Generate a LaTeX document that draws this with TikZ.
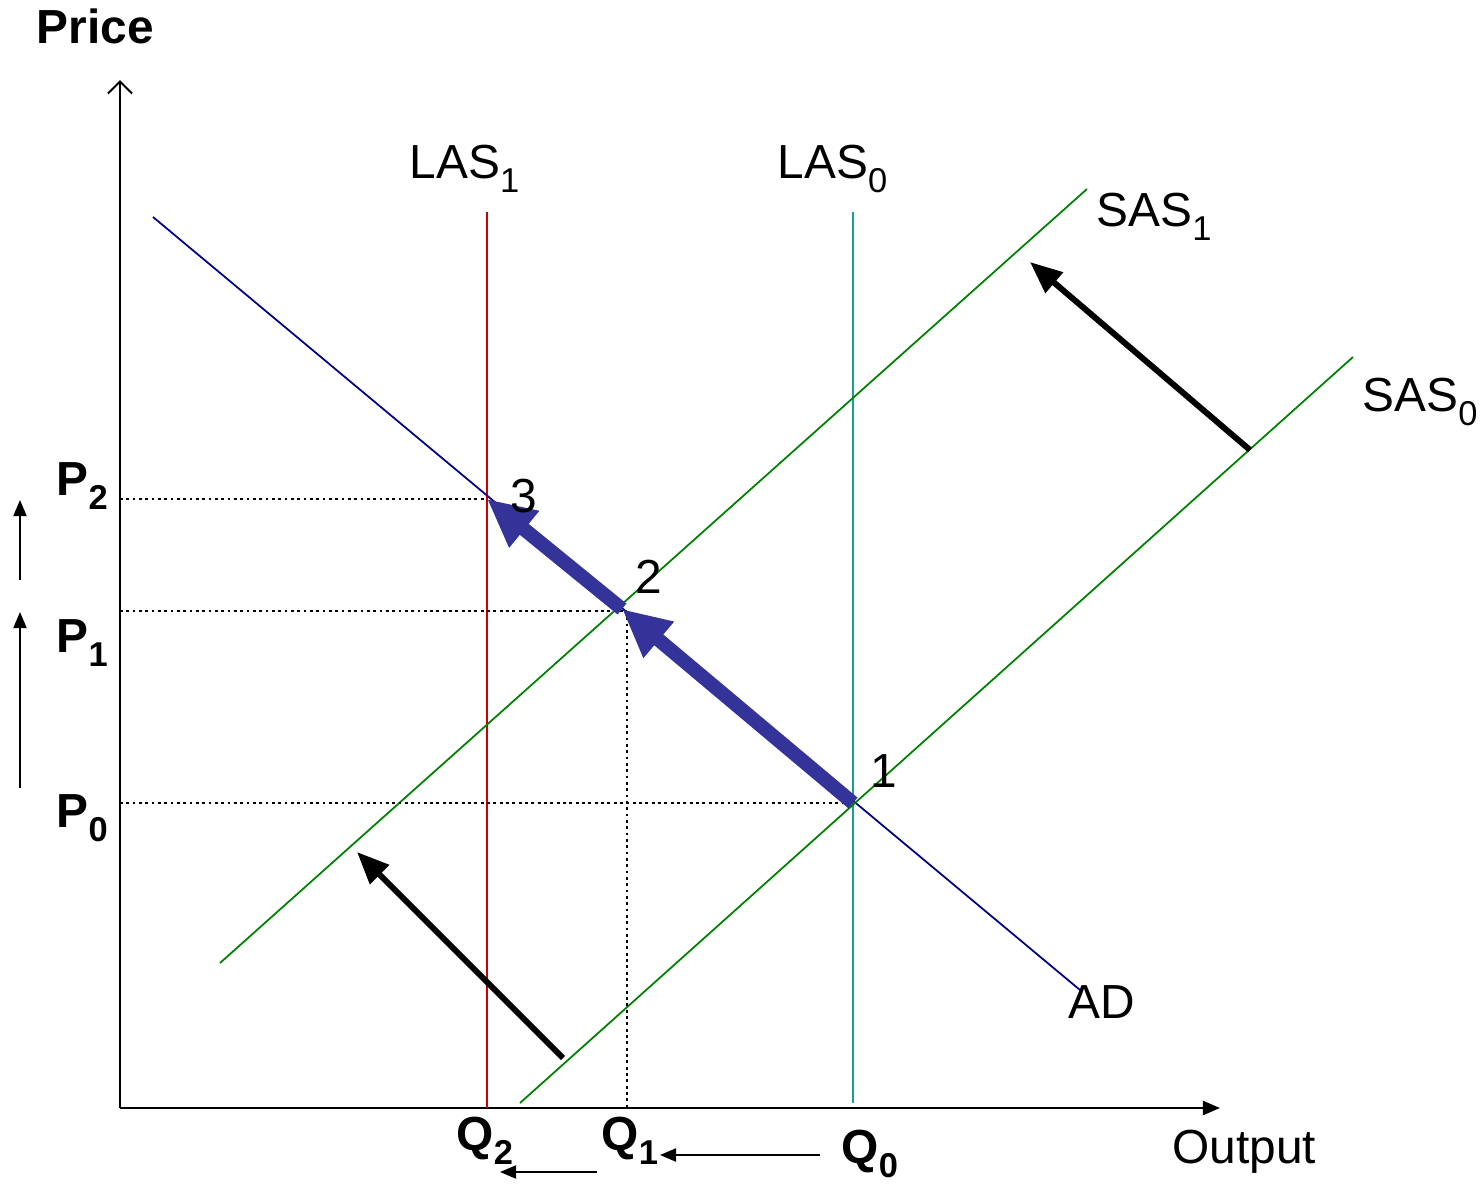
\documentclass[tikz,border=0pt]{standalone}
\usepackage{fontspec}
\setmainfont{Liberation Sans}
\usetikzlibrary{arrows.meta,positioning,calc}

\definecolor{adblue}{RGB}{0,0,128}
\definecolor{sasgreen}{RGB}{0,128,0}
\definecolor{lasred}{RGB}{204,0,0}
\definecolor{lasteal}{RGB}{20,160,150}
\definecolor{moveblue}{RGB}{51,51,153}

% lowered subscript
\newcommand{\lsub}[1]{\raisebox{-4.2pt}{\fontsize{9.8}{11}\selectfont #1}}

\begin{document}
\begin{tikzpicture}[x=0.01cm, y=-0.01cm,
    axisline/.style={black, line width=0.6pt},
    econline/.style={line width=0.5pt},
    guideline/.style={black, line width=0.45pt, dash pattern=on 0.8pt off 1pt},
    pusharrow/.style={black, line width=1.7pt, -{Triangle[length=0.32cm,width=0.26cm]}},
    movearrow/.style={moveblue, line width=4pt, -{Triangle[length=0.48cm,width=0.44cm]}},
    hintarrow/.style={black, line width=0.6pt, -{Triangle[length=0.16cm,width=0.13cm]}},
    lbl/.style={font=\fontsize{13.6}{16}\selectfont, inner sep=0pt, anchor=base west},
    blbl/.style={lbl, font=\fontsize{13.6}{16}\selectfont\bfseries}
]
\useasboundingbox (0,0) rectangle (1481,1184);

% Axes
\coordinate (origin) at (120,1108);
\coordinate (ytop) at (120,80);
\coordinate (xend) at (1220,1108);
\draw[axisline, -{Straight Barb[length=0.12cm,width=0.24cm]}] (origin) -- (ytop);
\draw[axisline, -{Triangle[length=0.17cm,width=0.14cm]}] (origin) -- (xend);
\node[blbl] (price) at (36,43) {Price};
\node[lbl] (output) at (1172,1163) {Output};

% Equilibrium points
\coordinate (e1) at (853,803);
\coordinate (e2) at (622,609);
\coordinate (e3) at (487,499);

% Long-run supply
\coordinate (las1top) at (487,212);
\coordinate (las1bot) at (487,1108);
\coordinate (las0top) at (853,212);
\coordinate (las0bot) at (853,1103);
\draw[econline, lasred] (las1top) -- (las1bot);
\draw[econline, lasteal] (las0top) -- (las0bot);
\node[lbl] (las1) at (409,178) {LAS\lsub{1}};
\node[lbl] (las0) at (777,178) {LAS\lsub{0}};

% Aggregate demand
\coordinate (adtop) at (153,217);
\coordinate (adbot) at (1080,990);
\draw[econline, adblue] (adtop) -- (adbot);
\node[lbl] (ad) at (1068,1018) {AD};

% Short-run supply
\coordinate (sas1a) at (220,963);
\coordinate (sas1b) at (1087,189);
\coordinate (sas0a) at (520,1103);
\coordinate (sas0b) at (1353,357);
\draw[econline, sasgreen] (sas1a) -- (sas1b);
\draw[econline, sasgreen] (sas0a) -- (sas0b);
\node[lbl] (sas1) at (1096,226) {SAS\lsub{1}};
\node[lbl] (sas0) at (1362,411) {SAS\lsub{0}};

% Guide lines
\coordinate (p2axis) at (120,499);
\coordinate (p1axis) at (120,611);
\coordinate (p0axis) at (120,803);
\coordinate (q1axis) at (627,1108);
\draw[guideline] (p2axis) -- (e3);
\draw[guideline] (p1axis) -- (p1axis -| q1axis);
\draw[guideline] (p0axis) -- (e1);
\draw[guideline] (p1axis -| q1axis) -- (q1axis);

% Price and output labels
\node[blbl] (p2) at (56,495) {P\lsub{2}};
\node[blbl] (p1) at (56,652) {P\lsub{1}};
\node[blbl] (p0) at (56,827) {P\lsub{0}};
\node[blbl] (q2) at (456,1150) {Q\lsub{2}};
\node[blbl] (q1) at (601,1150) {Q\lsub{1}};
\node[blbl] (q0) at (841,1163) {Q\lsub{0}};

% Movement along AD
\draw[movearrow] (e1) -- (e2);
\draw[movearrow] (e2) -- (e3);
\node[lbl] (n1) at (870,787) {1};
\node[lbl] (n2) at (635,593) {2};
\node[lbl] (n3) at (510,512) {3};

% Supply shifts
\coordinate (pushaa) at (1250,450);
\coordinate (pushab) at (1030,262);
\coordinate (pushba) at (563,1058);
\coordinate (pushbb) at (357,852);
\draw[pusharrow] (pushaa) -- (pushab);
\draw[pusharrow] (pushba) -- (pushbb);

% Direction hints
\coordinate (upaa) at (20,580);
\coordinate (upab) at (20,500);
\coordinate (upba) at (20,788);
\coordinate (upbb) at (20,612);
\coordinate (lfaa) at (597,1172);
\coordinate (lfab) at (500,1172);
\coordinate (lfba) at (820,1155);
\coordinate (lfbb) at (660,1155);
\draw[hintarrow] (upaa) -- (upab);
\draw[hintarrow] (upba) -- (upbb);
\draw[hintarrow] (lfaa) -- (lfab);
\draw[hintarrow] (lfba) -- (lfbb);

\end{tikzpicture}
\end{document}
